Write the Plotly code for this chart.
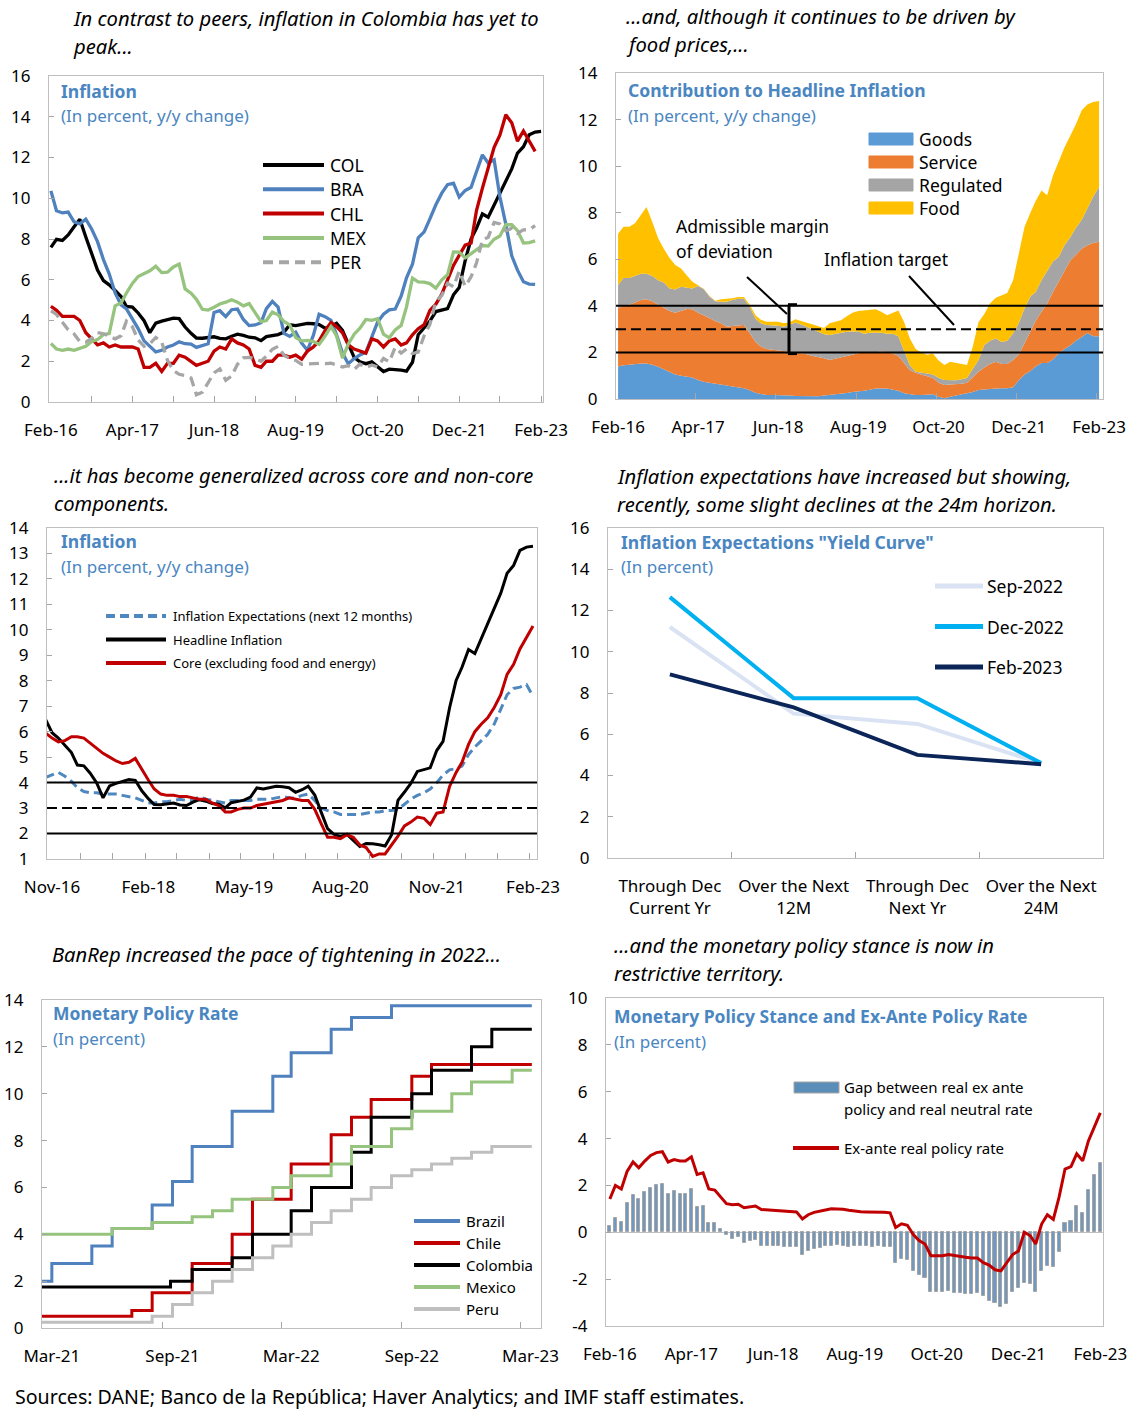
import pandas as pd
import plotly.graph_objects as go

W, H = 1135, 1416
FONT = "Noto Sans"
TITLE_C = "#4A86C1"
AX_LINE = "#BFBFBF"
TICK_C = "#A6A6A6"

# ---------------- DATA ----------------
months = pd.date_range("2016-02-01", "2023-02-01", freq="MS")  # Feb-16 .. Feb-23 (85)

# Panel 1: inflation, y/y % (COL to Feb-23, peers to Jan-23)
col_infl = [7.59, 7.98, 7.93, 8.20, 8.60, 8.97, 8.10, 7.27, 6.48, 5.96, 5.75,
            5.47, 5.18, 4.69, 4.66, 4.37, 3.99, 3.40, 3.87, 3.97, 4.05, 4.12, 4.09,
            3.68, 3.37, 3.14, 3.13, 3.16, 3.20, 3.12, 3.10, 3.23, 3.33, 3.27, 3.18,
            3.15, 3.01, 3.21, 3.25, 3.31, 3.43, 3.79, 3.75, 3.82, 3.86, 3.84, 3.80,
            3.62, 3.72, 3.86, 3.51, 2.85, 2.19, 1.97, 1.88, 1.97, 1.75, 1.49, 1.61,
            1.60, 1.56, 1.51, 1.95, 3.30, 3.63, 3.97, 4.44, 4.51, 4.58, 5.26, 5.62,
            6.94, 8.01, 8.53, 9.23, 9.07, 9.67, 10.21, 10.84, 11.44, 12.22, 12.53, 13.12,
            13.25, 13.28]
bra_infl = [10.36, 9.39, 9.28, 9.32, 8.84, 8.74, 8.97, 8.48, 7.87, 6.99, 6.29,
            5.35, 4.76, 4.57, 4.08, 3.60, 3.00, 2.71, 2.46, 2.54, 2.70, 2.80, 2.95,
            2.86, 2.84, 2.68, 2.76, 2.86, 4.39, 4.48, 4.19, 4.53, 4.56, 4.05, 3.75,
            3.78, 3.89, 4.58, 4.94, 4.66, 3.37, 3.22, 3.43, 2.89, 2.54, 3.27, 4.31,
            4.19, 4.01, 3.30, 2.40, 1.88, 2.13, 2.31, 2.44, 3.14, 3.92, 4.31, 4.52,
            4.56, 5.20, 6.10, 6.76, 8.06, 8.35, 8.99, 9.68, 10.25, 10.67, 10.74, 10.06,
            10.38, 10.54, 11.30, 12.13, 11.73, 11.89, 10.07, 8.73, 7.17, 6.47, 5.90, 5.79,
            5.77]
chl_infl = [4.7, 4.5, 4.2, 4.2, 4.2, 4.0, 3.4, 3.1, 2.8, 2.9, 2.7,
            2.8, 2.7, 2.7, 2.7, 2.6, 1.7, 1.7, 1.9, 1.5, 1.9, 1.9, 2.3,
            2.2, 2.0, 1.8, 1.9, 2.0, 2.5, 2.7, 2.6, 3.1, 2.9, 2.8, 2.6,
            1.8, 1.7, 2.0, 2.0, 2.3, 2.3, 2.2, 2.3, 2.1, 2.5, 2.7, 3.0,
            3.5, 3.9, 3.7, 3.4, 2.8, 2.6, 2.5, 2.4, 3.1, 3.0, 2.7, 3.0,
            3.1, 2.8, 2.9, 3.3, 3.6, 3.8, 4.5, 4.8, 5.3, 6.0, 6.7, 7.2,
            7.7, 7.8, 9.4, 10.5, 11.5, 12.5, 13.1, 14.1, 13.7, 12.8, 13.3, 12.8,
            12.3]
mex_infl = [2.87, 2.60, 2.54, 2.60, 2.54, 2.65, 2.73, 2.97, 3.06, 3.31, 3.36,
            4.72, 4.86, 5.35, 5.82, 6.16, 6.31, 6.44, 6.66, 6.35, 6.37, 6.63, 6.77,
            5.55, 5.34, 5.04, 4.55, 4.51, 4.65, 4.81, 4.90, 5.02, 4.90, 4.72, 4.83,
            4.37, 3.94, 4.00, 4.41, 4.28, 3.95, 3.78, 3.16, 3.00, 3.02, 2.97, 2.83,
            3.24, 3.70, 3.25, 2.15, 2.84, 3.33, 3.62, 4.05, 4.01, 4.09, 3.33, 3.15,
            3.54, 3.76, 4.67, 6.08, 5.89, 5.88, 5.81, 5.59, 6.00, 6.24, 7.37, 7.36,
            7.07, 7.28, 7.45, 7.68, 7.65, 7.99, 8.15, 8.70, 8.70, 8.41, 7.80, 7.82,
            7.91]
per_infl = [4.47, 4.30, 3.91, 3.54, 3.34, 2.96, 2.94, 3.13, 3.41, 3.35, 3.23,
            3.10, 3.25, 3.97, 3.69, 3.04, 2.73, 2.85, 3.17, 2.94, 2.04, 1.54, 1.36,
            1.30, 1.18, 0.36, 0.48, 0.93, 1.43, 1.62, 1.07, 1.28, 1.85, 2.17, 2.19,
            2.13, 2.00, 2.25, 2.59, 2.73, 2.29, 2.13, 2.04, 1.85, 1.87, 1.87, 1.90,
            1.88, 1.90, 1.82, 1.72, 1.78, 1.60, 1.86, 1.69, 1.82, 1.72, 2.14, 1.97,
            2.68, 2.40, 2.60, 2.38, 2.45, 3.25, 3.81, 4.95, 5.23, 5.83, 5.66, 6.43,
            5.68, 6.15, 6.82, 7.96, 8.09, 8.81, 8.74, 8.40, 8.53, 8.28, 8.45, 8.46,
            8.66]

# Panel 2: contribution to headline inflation (cumulative stacked levels, pp)
goods_level = [1.4, 1.45, 1.47, 1.5, 1.52, 1.52, 1.47, 1.38, 1.26, 1.15,
               1.05, 1.0, 0.97, 0.92, 0.82, 0.74, 0.7, 0.67, 0.63, 0.58,
               0.54, 0.5, 0.46, 0.38, 0.27, 0.22, 0.17, 0.17, 0.17, 0.17,
               0.15, 0.13, 0.13, 0.1, 0.1, 0.12, 0.15, 0.17, 0.2, 0.24,
               0.26, 0.3, 0.32, 0.35, 0.4, 0.45, 0.45, 0.45, 0.4, 0.35,
               0.25, 0.2, 0.17, 0.17, 0.2, 0.2, 0.1, 0.03, 0.1, 0.15,
               0.2, 0.24, 0.3, 0.39, 0.42, 0.44, 0.45, 0.46, 0.46, 0.5,
               0.8, 1.05, 1.2, 1.4, 1.55, 1.55, 1.7, 1.95, 2.15, 2.3,
               2.5, 2.66, 2.83, 2.7, 2.7]
service_level = [3.9, 4.0, 4.05, 4.15, 4.25, 4.28, 4.2, 4.05, 3.92, 3.78,
                 3.7, 3.8, 3.87, 3.85, 3.7, 3.6, 3.46, 3.35, 3.25, 3.1,
                 3.13, 3.15, 3.18, 2.82, 2.45, 2.25, 2.15, 2.12, 2.1, 2.05,
                 2.03, 2.0, 1.97, 1.92, 1.85, 1.8, 1.75, 1.67, 1.72, 1.8,
                 1.85, 1.9, 1.97, 2.0, 2.0, 2.0, 2.05, 2.0, 1.95, 1.85,
                 1.55, 1.25, 1.13, 1.05, 0.95, 0.9, 0.7, 0.6, 0.62, 0.62,
                 0.65, 0.7, 0.95, 1.17, 1.35, 1.5, 1.6, 1.5, 1.5, 1.67,
                 1.9, 2.4, 2.85, 3.35, 3.75, 4.1, 4.6, 5.05, 5.5, 5.95,
                 6.2, 6.45, 6.6, 6.7, 6.75]
regulated_level = [4.9, 5.2, 5.2, 5.3, 5.38, 5.38, 5.28, 5.1, 5.0, 4.75,
                   4.7, 4.82, 4.78, 4.75, 4.85, 4.72, 4.4, 4.2, 4.18, 4.18,
                   4.25, 4.3, 4.3, 3.95, 3.45, 3.25, 3.18, 3.18, 3.15, 3.1,
                   3.2, 3.28, 3.2, 3.1, 3.0, 2.89, 2.78, 2.75, 2.8, 2.87,
                   2.89, 2.9, 2.9, 2.8, 2.85, 2.85, 2.85, 2.8, 2.8, 2.7,
                   2.1, 1.45, 1.17, 1.15, 1.1, 1.05, 0.9, 0.82, 0.8, 0.8,
                   0.85, 0.9, 1.3, 1.67, 2.32, 2.5, 2.6, 2.45, 2.5, 2.82,
                   3.25, 3.9, 4.4, 4.6, 5.1, 5.5, 5.9, 6.1, 6.6, 6.95,
                   7.35, 7.7, 8.2, 8.7, 9.1]
food_level = [7.1, 7.4, 7.4, 7.55, 7.9, 8.25, 7.6, 6.9, 6.45, 6.05,
              5.75, 5.6, 5.3, 5.05, 4.88, 4.74, 4.42, 4.22, 4.28, 4.3,
              4.33, 4.38, 4.38, 4.05, 3.6, 3.4, 3.32, 3.32, 3.32, 3.25,
              3.3, 3.42, 3.35, 3.28, 3.2, 3.15, 3.05, 3.25, 3.3, 3.38,
              3.55, 3.7, 3.78, 3.8, 3.85, 3.85, 3.75, 3.6, 3.7, 3.8,
              3.3, 2.6, 2.15, 2.0, 1.9, 1.95, 1.65, 1.46, 1.6, 1.55,
              1.5, 1.46, 2.25, 3.3, 3.65, 4.1, 4.35, 4.45, 4.55, 5.1,
              6.2, 7.4, 8.0, 8.5, 8.95, 8.75, 9.6, 10.2, 10.8, 11.3,
              11.8, 12.4, 12.65, 12.75, 12.8]
target_band = [2, 3, 4]

# Panel 3: Colombia inflation, Oct-16 .. Feb-23
core_infl = [5.95, 5.75, 5.6, 5.65, 5.8, 5.8, 5.75, 5.55, 5.35, 5.15,
             5.0, 4.85, 4.75, 4.8, 4.95, 4.5, 4.1, 3.75, 3.55, 3.5,
             3.5, 3.45, 3.45, 3.4, 3.35, 3.35, 3.2, 3.1, 2.85, 2.85,
             2.95, 3.0, 3.0, 3.1, 3.15, 3.2, 3.25, 3.3, 3.4, 3.35,
             3.3, 3.3, 2.95, 2.4, 1.85, 1.85, 1.8, 1.95, 1.85, 1.55,
             1.45, 1.1, 1.2, 1.2, 1.55, 1.9, 2.3, 2.45, 2.65, 2.6,
             2.35, 2.8, 2.85, 3.85, 4.4, 4.8, 5.5, 6.0, 6.3, 6.55,
             6.95, 7.45, 8.25, 8.65, 9.25, 9.7, 10.15]
expect_12m = [4.2, 4.3, 4.4, 4.25, 4.05, 3.8, 3.65, 3.6, 3.6, 3.55,
              3.55, 3.55, 3.5, 3.45, 3.4, 3.3, 3.2, 3.2, 3.25, 3.25,
              3.3, 3.35, 3.3, 3.3, 3.45, 3.35, 3.3, 3.25, 3.2, 3.3,
              3.3, 3.3, 3.3, 3.35, 3.35, 3.35, 3.4, 3.45, 3.4, 3.4,
              3.5, 3.55, 3.3, 3.0, 2.9, 2.85, 2.75, 2.75, 2.75, 2.75,
              2.8, 2.85, 2.85, 2.9, 2.9, 2.95, 3.15, 3.35, 3.5, 3.6,
              3.75, 4.0, 4.3, 4.5, 4.55, 4.65, 5.1, 5.4, 5.65, 5.9,
              6.3, 6.9, 7.45, 7.7, 7.75, 7.85, 7.4]
ML_START = 8  # Oct-16 index in months

# Panel 4: inflation expectations "yield curve"
horizons = ["Through Dec<br>Current Yr", "Over the Next<br>12M",
            "Through Dec<br>Next Yr", "Over the Next<br>24M"]
exp_sep22 = [11.2, 7.0, 6.5, 4.6]
exp_dec22 = [12.65, 7.75, 7.75, 4.6]
exp_feb23 = [8.9, 7.3, 5.0, 4.55]

# Panel 5: monetary policy rates (change dates and new levels)
bra_dates = ["2021-02-14", "2021-03-01", "2021-05-01", "2021-06-01", "2021-08-01", "2021-09-01",
             "2021-10-01", "2021-12-01", "2022-02-01", "2022-03-01", "2022-05-01", "2022-06-01",
             "2022-08-01", "2023-03-03"]
bra_rate = [2.0, 2.75, 3.5, 4.25, 5.25, 6.25, 7.75, 9.25, 10.75, 11.75, 12.75, 13.25, 13.75, 13.75]
chl_dates = ["2021-02-14", "2021-07-01", "2021-08-01", "2021-10-01", "2021-12-01", "2022-01-01",
             "2022-03-01", "2022-05-01", "2022-06-01", "2022-07-01", "2022-09-01", "2022-10-01",
             "2023-03-03"]
chl_rate = [0.5, 0.75, 1.5, 2.75, 4.0, 5.5, 7.0, 8.25, 9.0, 9.75, 10.75, 11.25, 11.25]
col_dates = ["2021-02-14", "2021-08-29", "2021-10-01", "2021-12-01", "2022-01-01", "2022-03-01",
             "2022-04-01", "2022-06-01", "2022-07-01", "2022-09-01", "2022-10-01", "2022-12-01",
             "2023-01-01", "2023-03-03"]
col_rate = [1.75, 2.0, 2.5, 3.0, 4.0, 5.0, 6.0, 7.5, 9.0, 10.0, 11.0, 12.0, 12.75, 12.75]
mex_dates = ["2021-02-14", "2021-06-01", "2021-08-01", "2021-10-01", "2021-11-01", "2021-12-01",
             "2022-02-01", "2022-03-01", "2022-05-01", "2022-06-01", "2022-08-01", "2022-09-01",
             "2022-11-01", "2022-12-01", "2023-02-01", "2023-03-03"]
mex_rate = [4.0, 4.25, 4.5, 4.75, 5.0, 5.5, 6.0, 6.5, 7.0, 7.75, 8.5, 9.25, 10.0, 10.5, 11.0, 11.0]
per_dates = ["2021-02-14", "2021-08-01", "2021-09-01", "2021-10-01", "2021-11-01", "2021-12-01",
             "2022-01-01", "2022-02-01", "2022-03-01", "2022-04-01", "2022-05-01", "2022-06-01",
             "2022-07-01", "2022-08-01", "2022-09-01", "2022-10-01", "2022-11-01", "2022-12-01",
             "2023-01-01", "2023-03-03"]
per_rate = [0.25, 0.5, 1.0, 1.5, 2.0, 2.5, 3.0, 3.5, 4.0, 4.5, 5.0, 5.5, 6.0, 6.5, 6.75, 7.0,
            7.25, 7.5, 7.75, 7.75]

# Panel 6: policy stance (Feb-16 .. Feb-23)
policy_gap = [0.25, 0.6, 0.46, 1.25, 1.6, 1.42, 1.71, 1.9, 2.0, 2.07,
              1.64, 1.78, 1.65, 1.65, 1.85, 1.08, 1.14, 0.39, 0.39, 0.14,
              -0.11, -0.29, -0.22, -0.46, -0.38, -0.32, -0.57, -0.57, -0.57, -0.57,
              -0.61, -0.61, -0.63, -0.97, -0.78, -0.71, -0.65, -0.58, -0.57, -0.55,
              -0.57, -0.61, -0.57, -0.57, -0.6, -0.64, -0.57, -0.64, -0.64, -1.29,
              -1.12, -1.19, -1.64, -1.82, -1.96, -2.53, -2.53, -2.55, -2.5, -2.57,
              -2.6, -2.62, -2.65, -2.57, -2.72, -2.93, -3.0, -3.2, -3.05, -2.55,
              -2.39, -2.15, -2.2, -2.55, -1.64, -1.43, -1.5, -0.86, 0.4, 0.47,
              1.14, 0.83, 1.82, 2.43, 2.97]
real_rate = [1.42, 2.0, 1.85, 2.6, 3.0, 2.75, 3.04, 3.28, 3.4, 3.44,
             3.0, 3.1, 3.04, 3.04, 3.22, 2.47, 2.54, 1.85, 1.8, 1.51,
             1.22, 1.18, 1.2, 1.05, 1.08, 1.12, 0.97, 0.95, 0.93, 0.92,
             0.9, 0.88, 0.87, 0.57, 0.75, 0.85, 0.89, 0.95, 1.0, 1.0,
             0.98, 0.94, 0.9, 0.88, 0.87, 0.87, 0.85, 0.85, 0.83, 0.2,
             0.36, 0.3, -0.1, -0.35, -0.5, -1.0, -1.0, -1.0, -0.95, -1.0,
             -1.05, -1.07, -1.1, -1.1, -1.3, -1.4, -1.6, -1.65, -1.3, -0.95,
             -0.8, 0.0, -0.15, -0.5, 0.35, 0.75, 0.55, 1.5, 2.7, 2.8,
             3.35, 3.05, 3.9, 4.5, 5.1]

long_ticks = ["Feb-16", "Apr-17", "Jun-18", "Aug-19", "Oct-20", "Dec-21", "Feb-23"]
ml_ticks = ["Nov-16", "Feb-18", "May-19", "Aug-20", "Nov-21", "Feb-23"]
bl_ticks = ["Mar-21", "Sep-21", "Mar-22", "Sep-22", "Mar-23"]

# ---------------- FIGURE ----------------
fig = go.Figure()

def nm(i):
    return "" if i == 1 else str(i)

def set_axes(i, xdom, ydom, xrange, xtv, xtt, yrange, ytv, minor=None, xtype="date", zero=False):
    xd = dict(domain=[xdom[0] / W, xdom[1] / W], range=xrange, type=xtype,
              tickmode="array", tickvals=xtv, ticktext=xtt, anchor="y" + nm(i),
              showline=True, linecolor=AX_LINE, linewidth=1.3, mirror=True,
              showgrid=False, zeroline=False, ticks="", automargin=False,
              tickfont=dict(family=FONT, size=17, color="black"),
              ticklabelstandoff=12, fixedrange=True)
    if minor is not None:
        xd["minor"] = dict(tickmode="array", tickvals=minor, ticks="inside", ticklen=6,
                           tickcolor=TICK_C, tickwidth=1, showgrid=False)
    yd = dict(domain=[1 - ydom[1] / H, 1 - ydom[0] / H], range=yrange, anchor="x" + nm(i),
              tickmode="array", tickvals=ytv, ticktext=[str(v) for v in ytv],
              showline=True, linecolor=AX_LINE, linewidth=1.3, mirror=True,
              showgrid=False, ticks="inside", ticklen=5, tickcolor=TICK_C, automargin=False,
              zeroline=zero, zerolinecolor=AX_LINE, zerolinewidth=1.2,
              tickfont=dict(family=FONT, size=17, color="black"),
              ticklabelstandoff=14, fixedrange=True)
    fig.update_layout(**{"xaxis" + nm(i): xd, "yaxis" + nm(i): yd})

lt = [months[k] for k in range(0, 85, 14)]
set_axes(1, (49, 543), (76, 402), ["2016-01-22", "2023-02-11"], lt, long_ticks,
         [0, 16], list(range(0, 17, 2)), minor=[months[k] for k in range(7, 85, 7)])
set_axes(2, (616, 1103), (73, 399), ["2016-01-21", "2023-02-22"], lt, long_ticks,
         [0, 14], list(range(0, 15, 2)),
         minor=[months[k] - pd.Timedelta(days=12) for k in range(14, 85, 14)])
set_axes(3, (47, 537), (528, 859), ["2016-10-08", "2023-02-20"],
         [months[k] for k in range(9, 85, 15)], ml_ticks, [1, 14], list(range(1, 15)),
         minor=[months[k] - pd.Timedelta(days=15) for k in range(14, 85, 5)])
set_axes(4, (608, 1103), (528, 858), [-0.5, 3.5], [0, 1, 2, 3], horizons,
         [0, 16], list(range(0, 17, 2)), minor=[0.5, 1.5, 2.5], xtype="linear")
set_axes(5, (42, 541), (1000, 1328), ["2021-02-14", "2023-03-17"],
         ["2021-03-01", "2021-09-01", "2022-03-01", "2022-09-01", "2023-03-01"], bl_ticks,
         [0, 14], list(range(0, 15, 2)),
         minor=["2021-08-16", "2022-02-14", "2022-08-16", "2023-02-14"])
set_axes(6, (606, 1103), (998, 1326), ["2016-01-12", "2023-02-15"], lt, long_ticks,
         [-4, 10], list(range(-4, 11, 2)), zero=True)

# ---- Panel 1 traces
p1 = [("COL", col_infl, "black", "solid"), ("BRA", bra_infl, "#4E81BD", "solid"),
      ("CHL", chl_infl, "#C00000", "solid"), ("MEX", mex_infl, "#96C37E", "solid"),
      ("PER", per_infl, "#A6A6A6", "10px,6px")]
for name, vals, c, d in p1:
    fig.add_trace(go.Scatter(x=months[:len(vals)], y=vals, mode="lines", name=name,
                             line=dict(color=c, width=3.3, dash=d), xaxis="x", yaxis="y",
                             showlegend=False))

# ---- Panel 2 traces
p2 = [("Goods", goods_level, "#5B9BD5"), ("Service", service_level, "#ED7D31"),
      ("Regulated", regulated_level, "#A5A5A5"), ("Food", food_level, "#FFC000")]
for k, (name, vals, c) in enumerate(p2):
    fig.add_trace(go.Scatter(x=months, y=vals, mode="lines", name=name,
                             line=dict(color=c, width=0), fillcolor=c,
                             fill="tozeroy" if k == 0 else "tonexty",
                             xaxis="x2", yaxis="y2", showlegend=False))

# ---- Panel 3 traces
ml_x = months[ML_START:]
fig.add_trace(go.Scatter(x=ml_x, y=expect_12m, mode="lines", name="Inflation Expectations (next 12 months)",
                         line=dict(color="#4F87BF", width=3, dash="9px,5px"), xaxis="x3", yaxis="y3",
                         showlegend=False))
fig.add_trace(go.Scatter(x=ml_x, y=col_infl[ML_START:], mode="lines", name="Headline Inflation",
                         line=dict(color="black", width=3), xaxis="x3", yaxis="y3", showlegend=False))
fig.add_trace(go.Scatter(x=ml_x, y=core_infl, mode="lines", name="Core (excluding food and energy)",
                         line=dict(color="#C00000", width=3), xaxis="x3", yaxis="y3", showlegend=False))

# ---- Panel 4 traces
for name, vals, c in [("Sep-2022", exp_sep22, "#DAE3F3"), ("Dec-2022", exp_dec22, "#00B0F0"),
                      ("Feb-2023", exp_feb23, "#0B2559")]:
    fig.add_trace(go.Scatter(x=[0, 1, 2, 3], y=vals, mode="lines", name=name,
                             line=dict(color=c, width=4), xaxis="x4", yaxis="y4", showlegend=False))

# ---- Panel 5 traces
for name, dts, vals, c in [("Brazil", bra_dates, bra_rate, "#4E81BD"),
                           ("Chile", chl_dates, chl_rate, "#C00000"),
                           ("Colombia", col_dates, col_rate, "black"),
                           ("Mexico", mex_dates, mex_rate, "#96C37E"),
                           ("Peru", per_dates, per_rate, "#BFBFBF")]:
    fig.add_trace(go.Scatter(x=dts, y=vals, mode="lines", name=name, line_shape="hv",
                             line=dict(color=c, width=3), xaxis="x5", yaxis="y5", showlegend=False))

# ---- Panel 6 traces
fig.add_trace(go.Bar(x=months, y=policy_gap, name="Gap between real ex ante policy and real neutral rate",
                     width=16 * 24 * 3600 * 1000,
                     marker=dict(color="#7199BF", line=dict(color="#A6A6A6", width=1)),
                     xaxis="x6", yaxis="y6", showlegend=False))
fig.add_trace(go.Scatter(x=months, y=real_rate, mode="lines", name="Ex-ante real policy rate",
                         line=dict(color="#C00000", width=3), xaxis="x6", yaxis="y6", showlegend=False))

# ---- target bands (panels 2 and 3)
for ax in ["2", "3"]:
    for v in target_band:
        fig.add_shape(type="line", xref="x" + ax + " domain", yref="y" + ax, x0=0, x1=1, y0=v, y1=v,
                      line=dict(color="black", width=2, dash="10px,5px" if v == 3 else "solid"))

# ---------------- TEXT HELPERS ----------------
def txt(x, y, s, size=17, color="black", weight="normal", style="normal", anchor="left"):
    fig.add_annotation(xref="paper", yref="paper", x=x / W, y=1 - y / H, text=s, showarrow=False,
                       xanchor=anchor, yanchor="middle", borderpad=0,
                       font=dict(family=FONT, size=size, color=color, weight=weight, style=style))

def pline(x0, y0, x1, y1, color="black", width=2, dash="solid"):
    fig.add_shape(type="line", xref="paper", yref="paper", x0=x0 / W, x1=x1 / W,
                  y0=1 - y0 / H, y1=1 - y1 / H, line=dict(color=color, width=width, dash=dash))

def prect(x0, y0, x1, y1, color, lcolor=None):
    fig.add_shape(type="rect", xref="paper", yref="paper", x0=x0 / W, x1=x1 / W,
                  y0=1 - y1 / H, y1=1 - y0 / H, fillcolor=color,
                  line=dict(color=lcolor or color, width=1))

# captions
CAP = 20.2
txt(72, 18, "In contrast to peers, inflation in Colombia has yet to", CAP, style="italic")
txt(72, 46, "peak...", CAP, style="italic")
txt(625, 16, "...and, although it continues to be driven by", CAP, style="italic")
txt(625, 44, "food prices,...", CAP, style="italic")
txt(53, 475, "...it has become generalized across core and non-core", CAP, style="italic")
txt(53, 503, "components.", CAP, style="italic")
txt(616, 476, "Inflation expectations have increased but showing,", CAP, style="italic")
txt(616, 504, "recently, some slight declines at the 24m horizon.", CAP, style="italic")
txt(51, 954, "BanRep increased the pace of tightening in 2022...", CAP, style="italic")
txt(613, 945, "...and the monetary policy stance is now in", CAP, style="italic")
txt(613, 973, "restrictive territory.", CAP, style="italic")
txt(14, 1396, "Sources: DANE; Banco de la República; Haver Analytics; and IMF staff estimates.", 19.6)

# panel titles
TS = 17.5
for x, y, t, s in [(60, 91, "Inflation", "(In percent, y/y change)"),
                   (627, 90, "Contribution to Headline Inflation", "(In percent, y/y change)"),
                   (60, 541, "Inflation", "(In percent, y/y change)"),
                   (620, 542, "Inflation Expectations \"Yield Curve\"", "(In percent)"),
                   (52, 1013, "Monetary Policy Rate", "(In percent)"),
                   (613, 1016, "Monetary Policy Stance and Ex-Ante Policy Rate", "(In percent)")]:
    txt(x, y, t, TS, TITLE_C, weight="bold")
    txt(x, y + 25, s, 17, TITLE_C)

# legend panel 1
for k, (name, vals, c, d) in enumerate(p1):
    y = 165 + k * 24.3
    pline(263, y, 324, y, c, 4, d)
    txt(329, y, name, 17.5)

# legend panel 2
for k, (name, vals, c) in enumerate(p2):
    y = 139 + k * 23
    prect(869, y - 6, 913, y + 6, c)
    txt(918, y, name, 17.5)

# panel 2 annotations
txt(675, 226, "Admissible margin", 17.5)
txt(675, 251, "of deviation", 17.5)
txt(823, 259, "Inflation target", 17.5)
pline(747, 277, 787, 314, width=2)
pline(909, 276, 954, 325, width=2)
fig.add_shape(type="line", xref="paper", yref="y2", x0=789 / W, x1=789 / W, y0=1.95, y1=4.05,
              line=dict(color="black", width=3))
for v in (1.95, 4.05):
    fig.add_shape(type="line", xref="paper", yref="y2", x0=788 / W, x1=797 / W, y0=v, y1=v,
                  line=dict(color="black", width=3))

# legend panel 3
p3 = [("Inflation Expectations (next 12 months)", "#4F87BF", "9px,5px"),
      ("Headline Inflation", "black", "solid"),
      ("Core (excluding food and energy)", "#C00000", "solid")]
for k, (name, c, d) in enumerate(p3):
    y = 616 + k * 23.5
    pline(106, y, 166, y, c, 4, d)
    txt(172, y, name, 13)

# legend panel 4
for k, (name, c) in enumerate([("Sep-2022", "#DAE3F3"), ("Dec-2022", "#00B0F0"), ("Feb-2023", "#0B2559")]):
    y = 586 + k * 40.5
    pline(935, y, 983, y, c, 5)
    txt(986, y, name, 17.5)

# legend panel 5
for k, (name, c) in enumerate([("Brazil", "#4E81BD"), ("Chile", "#C00000"), ("Colombia", "black"),
                               ("Mexico", "#96C37E"), ("Peru", "#BFBFBF")]):
    y = 1221 + k * 22
    pline(414, y, 460, y, c, 4)
    txt(465, y, name, 15)

# legend panel 6
prect(794, 1082, 839, 1093, "#5A8DB8", "#A6A6A6")
txt(843, 1087, "Gap between real ex ante", 15)
txt(843, 1109, "policy and real neutral rate", 15)
pline(793, 1148, 839, 1148, "#C00000", 4)
txt(843, 1148, "Ex-ante real policy rate", 15)

fig.update_layout(width=W, height=H, autosize=False, margin=dict(l=0, r=0, t=0, b=0, autoexpand=False),
                  paper_bgcolor="white", plot_bgcolor="white", bargap=0,
                  font=dict(family=FONT, color="black"))

fig.write_html("out.html", config={"displayModeBar": False},
               post_script="document.body.style.margin='0';")
